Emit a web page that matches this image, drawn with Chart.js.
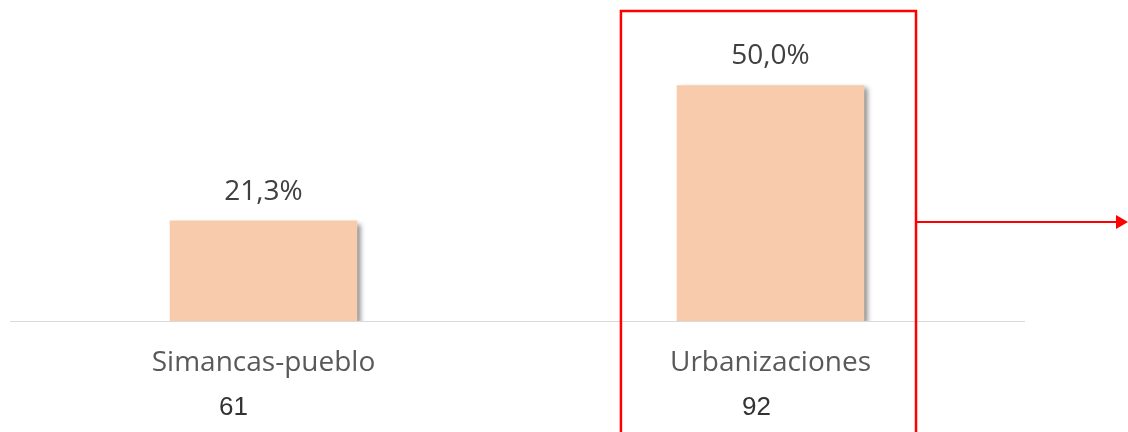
<!DOCTYPE html>
<html>
<head>
<meta charset="utf-8">
<script src="https://cdn.jsdelivr.net/npm/chart.js@4/dist/chart.umd.min.js"></script>
<style>
  html, body { margin: 0; padding: 0; background: #fff; }
  #wrap { width: 1128px; height: 432px; position: relative; }
</style>
</head>
<body>
<div id="wrap"><canvas id="grafico"></canvas></div>
<script>
// datos
const zonas = ['Simancas-pueblo', 'Urbanizaciones'];
const porcentajes = [21.3, 50.0];
const totales = [61, 92];
const zonaDestacada = 1;

const formatPct = (v) => v.toFixed(1).replace('.', ',') + '%';

// sombra de las barras
const sombraBarras = {
    id: 'sombraBarras',
    beforeDatasetsDraw(chart) {
        const ctx = chart.ctx;
        ctx.save();
        ctx.shadowColor = 'rgba(0,0,0,0.45)';
        ctx.shadowOffsetX = 4;
        ctx.shadowOffsetY = 3;
        ctx.shadowBlur = 5;
    },
    afterDatasetsDraw(chart) {
        chart.ctx.restore();
    }
};

// etiquetas de valor, totales y recuadro rojo
const etiquetas = {
    id: 'etiquetas',
    afterDraw(chart) {
        const ctx = chart.ctx;
        const meta = chart.getDatasetMeta(0);
        const x = chart.scales.x;
        ctx.save();
        ctx.textAlign = 'center';
        ctx.textBaseline = 'alphabetic';
        meta.data.forEach((bar, i) => {
            ctx.fillStyle = '#404040';
            ctx.font = '28px "Open Sans"';
            ctx.fillText(formatPct(porcentajes[i]), bar.x, bar.y - 21);
            ctx.fillStyle = '#333333';
            ctx.font = '26px "Liberation Sans"';
            const off = i === 0 ? 30 : 14;
            ctx.fillText(String(totales[i]), bar.x - off, 415);
        });

        // recuadro
        const cx = x.getPixelForValue(zonaDestacada);
        const ancho = x.width / zonas.length;
        const izq = cx - ancho * 0.295;
        const der = cx + ancho * 0.287;
        ctx.strokeStyle = '#ff0000';
        ctx.lineWidth = 2.5;
        ctx.beginPath();
        ctx.moveTo(izq, 440);
        ctx.lineTo(izq, 11);
        ctx.lineTo(der, 11);
        ctx.lineTo(der, 440);
        ctx.stroke();

        // flecha
        const ya = 222;
        ctx.lineWidth = 2;
        ctx.beginPath();
        ctx.moveTo(der, ya);
        ctx.lineTo(1117, ya);
        ctx.stroke();
        ctx.fillStyle = '#ff0000';
        ctx.beginPath();
        ctx.moveTo(1128, ya);
        ctx.lineTo(1116, ya - 7);
        ctx.lineTo(1116, ya + 7);
        ctx.closePath();
        ctx.fill();
        ctx.restore();
    }
};

new Chart(document.getElementById('grafico'), {
    type: 'bar',
    data: {
        labels: zonas,
        datasets: [{
            data: porcentajes,
            backgroundColor: '#F8CBAD',
            borderWidth: 0,
            barPercentage: 0.74,
            categoryPercentage: 0.5
        }]
    },
    options: {
        responsive: true,
        maintainAspectRatio: false,
        animation: false,
        layout: { padding: { left: 10, right: 104, top: 38, bottom: 0 } },
        plugins: {
            legend: { display: false },
            tooltip: { enabled: false }
        },
        scales: {
            x: {
                grid: { display: false, drawTicks: false },
                border: { display: true, color: '#d9d9d9', width: 1 },
                ticks: {
                    color: '#595959',
                    font: { family: 'Open Sans', size: 28 },
                    padding: 25,
                    maxRotation: 0
                },
                afterFit(scale) { scale.height = 111; }
            },
            y: {
                display: false,
                min: 0,
                max: 60
            }
        }
    },
    plugins: [sombraBarras, etiquetas]
});
</script>
</body>
</html>
